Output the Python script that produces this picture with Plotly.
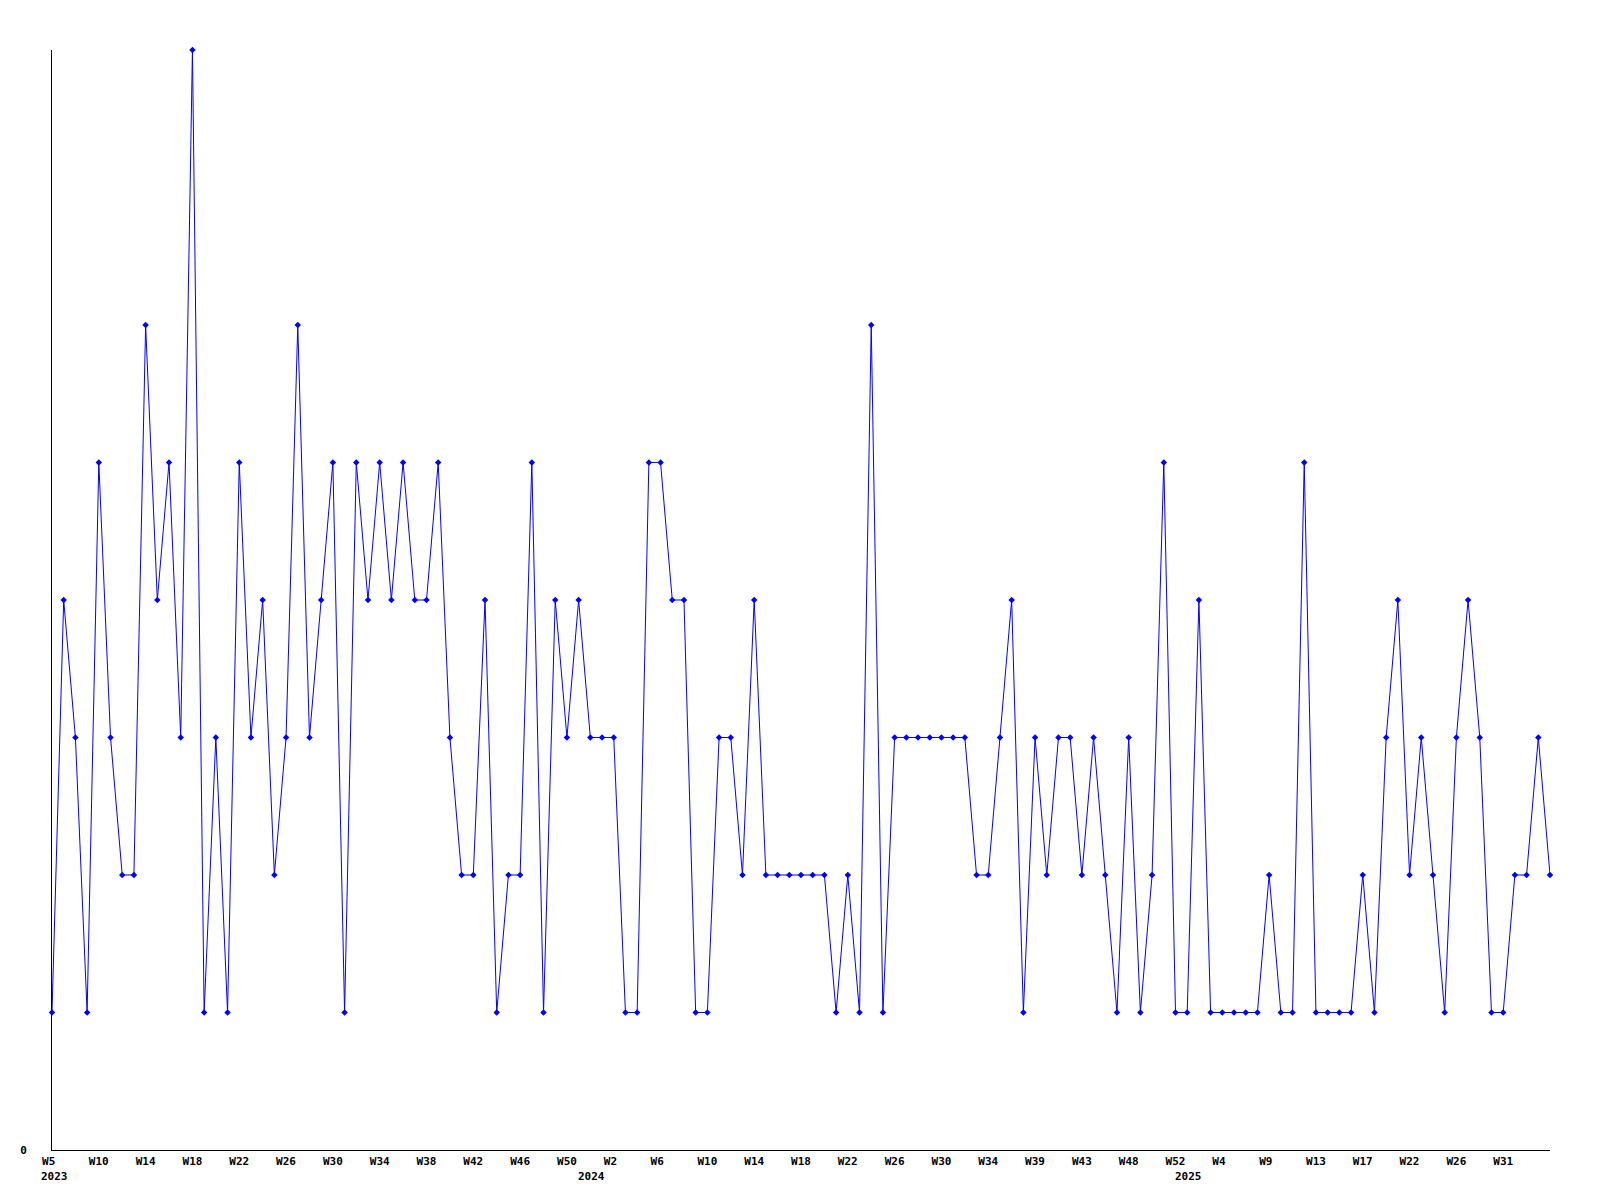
import plotly.graph_objects as go

# Weekly counts, 2023 W5 onward (one value per week)
values = [
    1, 4, 3, 1, 5, 3, 2, 2, 6, 4,
    5, 3, 8, 1, 3, 1, 5, 3, 4, 2,
    3, 6, 3, 4, 5, 1, 5, 4, 5, 4,
    5, 4, 4, 5, 3, 2, 2, 4, 1, 2,
    2, 5, 1, 4, 3, 4, 3, 3, 3, 1,
    1, 5, 5, 4, 4, 1, 1, 3, 3, 2,
    4, 2, 2, 2, 2, 2, 2, 1, 2, 1,
    6, 1, 3, 3, 3, 3, 3, 3, 3, 2,
    2, 3, 4, 1, 3, 2, 3, 3, 2, 3,
    2, 1, 3, 1, 2, 5, 1, 1, 4, 1,
    1, 1, 1, 1, 2, 1, 1, 5, 1, 1,
    1, 1, 2, 1, 3, 4, 2, 3, 2, 1,
    3, 4, 3, 1, 1, 2, 2, 3, 2,
]
week_index = list(range(len(values)))

tick_labels = ["W5", "W10", "W14", "W18", "W22", "W26", "W30", "W34", "W38", "W42",
               "W46", "W50", "W2", "W6", "W10", "W14", "W18", "W22", "W26", "W30",
               "W34", "W39", "W43", "W48", "W52", "W4", "W9", "W13", "W17", "W22",
               "W26", "W31"]
tick_positions = [i * 4 for i in range(len(tick_labels))]

year_labels = ["2023", "2024", "2025"]
year_positions = [-1.15, 44.8, 95.75]

X_MAX = len(values) - 1
FONT = dict(family="DejaVu Sans Mono", size=11, color="black", weight="bold")

fig = go.Figure()
fig.add_trace(go.Scatter(
    x=week_index, y=values, mode="lines+markers",
    line=dict(color="#0000ff", width=1),
    marker=dict(symbol="diamond", size=5, color="#0000ff"),
    cliponaxis=False, showlegend=False,
))

for txt, pos in zip(year_labels, year_positions):
    fig.add_annotation(x=pos / X_MAX, y=-0.0245, xref="paper", yref="paper", text=txt,
                       showarrow=False, xanchor="left", yanchor="middle", font=FONT)

fig.update_layout(
    width=1584, height=1184,
    margin=dict(l=42, r=42, t=42, b=42),
    paper_bgcolor="white", plot_bgcolor="white",
    xaxis=dict(
        range=[0, X_MAX], showgrid=False, zeroline=False,
        showline=True, linecolor="black", linewidth=1,
        tickmode="array", tickvals=tick_positions,
        ticktext=[t + "\u00a0" if len(t) == 2 else t for t in tick_labels],
        ticks="outside", ticklen=1, tickcolor="rgba(0,0,0,0)",
        tickfont=FONT, tickangle=0,
    ),
    yaxis=dict(
        range=[0, 8], showgrid=False, zeroline=False,
        showline=True, linecolor="black", linewidth=1,
        tickmode="array", tickvals=[0], ticktext=["0"],
        ticks="outside", ticklen=22, tickcolor="rgba(0,0,0,0)",
        tickfont=FONT,
    ),
)

fig.write_html("out.html")
